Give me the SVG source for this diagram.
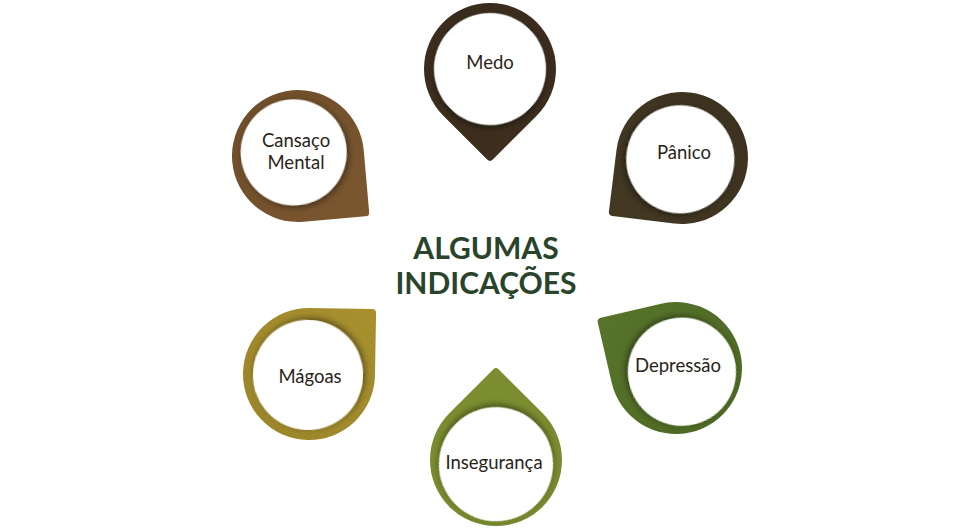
<svg xmlns="http://www.w3.org/2000/svg" width="980" height="529" viewBox="0 0 980 529">
<defs>
<style>
.lbl{font-family:Lato,"Open Sans","DejaVu Sans",sans-serif;font-size:18.5px;fill:#2a2419;text-anchor:middle}
.ttl{font-family:Lato,"Open Sans","DejaVu Sans",sans-serif;font-size:30px;font-weight:bold;fill:#2a432b;text-anchor:middle}
.inner{fill:#ffffff;filter:url(#sh)}
</style>
<filter id="sh" x="-30%" y="-30%" width="160%" height="160%">
<feDropShadow dx="2" dy="2" stdDeviation="3" flood-color="#000" flood-opacity="0.45"/>
</filter>
<path id="drop" d="M66,0 L66,62 Q66,66 62,66 L0,66 A66,66 0 1 1 66,0 Z"/>
<linearGradient id="gMedo" x1="0" y1="0" x2="1" y2="1"><stop offset="0" stop-color="#3a2c1d"/><stop offset="1" stop-color="#3d2e1e"/></linearGradient>
<linearGradient id="gPan" x1="0" y1="0" x2="1" y2="1"><stop offset="0" stop-color="#3b311f"/><stop offset="1" stop-color="#433822"/></linearGradient>
<linearGradient id="gDep" x1="0" y1="0" x2="1" y2="1"><stop offset="0" stop-color="#4a6622"/><stop offset="1" stop-color="#58742a"/></linearGradient>
<linearGradient id="gIns" x1="0" y1="0" x2="1" y2="1"><stop offset="0" stop-color="#76882d"/><stop offset="1" stop-color="#7d8e31"/></linearGradient>
<linearGradient id="gMag" x1="0" y1="0" x2="1" y2="1"><stop offset="0" stop-color="#998429"/><stop offset="1" stop-color="#a8902e"/></linearGradient>
<linearGradient id="gCan" x1="0" y1="0" x2="1" y2="1"><stop offset="0" stop-color="#6d4c29"/><stop offset="1" stop-color="#7c5830"/></linearGradient>
</defs>
<rect width="980" height="529" fill="#ffffff"/>
<g id="connectors"/>
<g id="title">
<text class="ttl" x="486" y="259">ALGUMAS</text>
<text class="ttl" x="486" y="294">INDICAÇÕES</text>
</g>
<g id="medo" transform="translate(490,69)">
<g transform="rotate(45)"><use href="#drop" fill="url(#gMedo)"/><circle class="inner" cx="0" cy="0" r="56"/></g>
<text class="lbl" x="0" y="-6" dy="0.35em">Medo</text>
</g>
<g id="panico" transform="translate(682,158)">
<g transform="rotate(97)"><use href="#drop" fill="url(#gPan)"/><circle class="inner" cx="1.5" cy="1.5" r="54"/></g>
<text class="lbl" x="2" y="-5" dy="0.35em">Pânico</text>
</g>
<g id="depressao" transform="translate(676,368)">
<g transform="rotate(167)"><use href="#drop" fill="url(#gDep)"/><circle class="inner" cx="-5" cy="-5" r="54"/></g>
<text class="lbl" x="2" y="-2" dy="0.35em">Depressão</text>
</g>
<g id="inseguranca" transform="translate(496,460)">
<g transform="rotate(225)"><use href="#drop" fill="url(#gIns)"/><circle class="inner" cx="-3" cy="-3" r="57"/></g>
<text class="lbl" x="-2" y="3" dy="0.35em">Insegurança</text>
</g>
<g id="magoas" transform="translate(309,374)">
<g transform="rotate(-89)"><use href="#drop" fill="url(#gMag)"/><circle class="inner" cx="-1" cy="-1" r="55"/></g>
<text class="lbl" x="1" y="3" dy="0.35em">Mágoas</text>
</g>
<g id="cansaco" transform="translate(298,156)">
<g transform="rotate(-5)"><use href="#drop" fill="url(#gCan)"/><circle class="inner" cx="-4" cy="-4" r="53"/></g>
<text class="lbl" x="-2" y="-15" dy="0.35em">Cansaço</text>
<text class="lbl" x="-2" y="7" dy="0.35em">Mental</text>
</g>
</svg>
